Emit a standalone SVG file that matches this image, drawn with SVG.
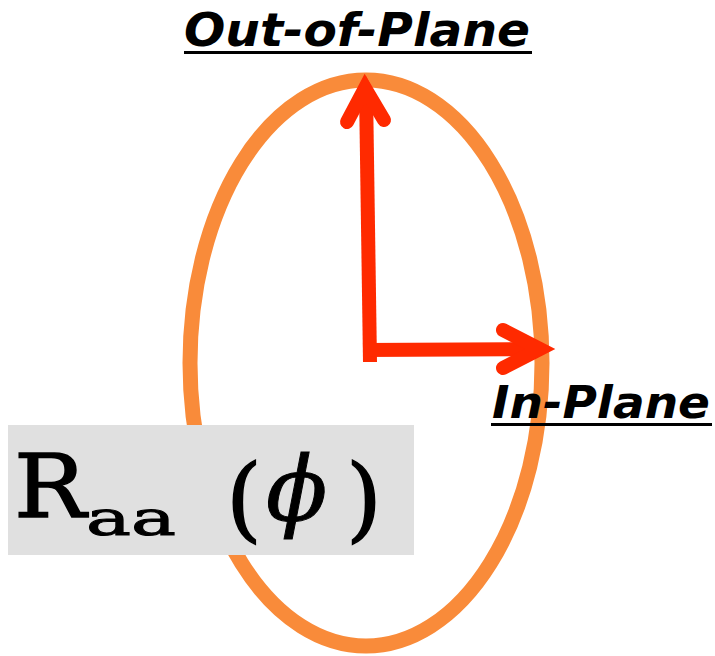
<svg xmlns="http://www.w3.org/2000/svg" width="715" height="656" viewBox="0 0 715 656">
<style>
.lbl{font-family:"DejaVu Sans",sans-serif;font-weight:bold;font-style:italic;fill:#000}
.arr{stroke:#ff2a00;stroke-width:14;fill:none;stroke-linecap:round;stroke-linejoin:miter}
.math{font-family:"DejaVu Serif",serif;fill:#000}
</style>
<rect width="715" height="656" fill="#fff"/>
<g id="ellipse">
<ellipse cx="366" cy="363" rx="176" ry="283" fill="none" stroke="#f98b3a" stroke-width="15"/>
</g>
<g id="connectors">
<path class="arr" d="M370 362 L366 90" style="stroke-linecap:butt"/>
<path class="arr" d="M347 122 L365 88 L384 120" />
<path d="M366 76 L351 104 L380 104 Z" fill="#ff2a00"/>
<path class="arr" d="M363 350 L540 349" style="stroke-linecap:butt"/>
<path class="arr" d="M503 330 L540 349 L503 368"/>
<path d="M551 349 L530 337 L530 361 Z" fill="#ff2a00"/>
</g>
<g id="out-of-plane">
<text class="lbl" x="184" y="46" font-size="47" textLength="346" lengthAdjust="spacingAndGlyphs">Out-of-Plane</text>
<rect x="184" y="51" width="348" height="3" fill="#000"/>
</g>
<g id="in-plane">
<text class="lbl" x="492" y="418" font-size="45" textLength="218" lengthAdjust="spacingAndGlyphs">In-Plane</text>
<rect x="491" y="423" width="221" height="3" fill="#000"/>
</g>
<g id="raa">
<rect x="8" y="425" width="406" height="130" fill="#e0e0e0"/>
<text class="math" x="14" y="517" font-size="88" stroke="#000" stroke-width="1.5" textLength="72" lengthAdjust="spacingAndGlyphs">R</text>
<text class="math" x="86" y="535" font-size="48" stroke="#000" stroke-width="1" textLength="90" lengthAdjust="spacingAndGlyphs">aa</text>
<text class="math" x="226" y="530" font-size="92" stroke="#000" stroke-width="1.5">(</text>
<text class="math" x="266" y="520" font-size="90" font-style="italic" stroke="#000" stroke-width="1">ϕ</text>
<text class="math" x="346" y="530" font-size="92" stroke="#000" stroke-width="1.5">)</text>
</g>
</svg>
